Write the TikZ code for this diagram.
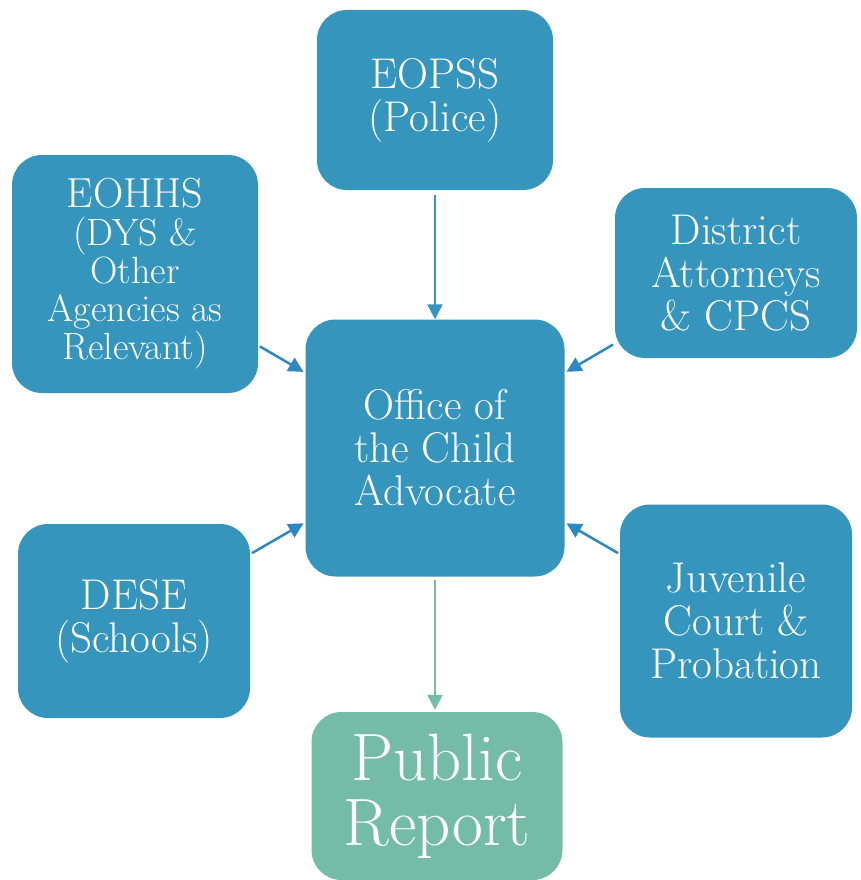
\documentclass[tikz,border=0pt]{standalone}
\usetikzlibrary{arrows.meta}
\definecolor{boxblue}{RGB}{53,149,188}
\definecolor{boxgreen}{RGB}{117,188,166}
\definecolor{arrowblue}{RGB}{44,135,195}

\begin{document}
\begin{tikzpicture}[x=1pt,y=-1pt,
    agency/.style={fill=boxblue, text=white, rounded corners=30pt, align=center, inner sep=0pt, font=\fontsize{43}{43}\selectfont},
    report/.style={agency, fill=boxgreen, font=\fontsize{67}{65}\selectfont},
    feed/.style={-{Triangle[length=15pt,width=15pt]}, line width=2.5pt, draw=arrowblue, shorten <=2pt, shorten >=2pt}]
    \useasboundingbox (0,0) rectangle (860,880);

    % Mitte
    \node[agency, minimum width=259pt, minimum height=257pt] (oca) at (435,448) {Office of\\the Child\\Advocate};

    % Behoerden ringsum
    \node[agency, minimum width=236pt, minimum height=180pt] (eopss) at (435,100) {EOPSS\\(Police)};
    \node[agency, minimum width=246pt, minimum height=238pt, font=\fontsize{38}{38}\selectfont] (eohhs) at (135,274) {{\fontsize{42}{40}\selectfont EOHHS}\\(DYS \&\\Other\\Agencies as\\Relevant)};
    \node[agency, minimum width=242pt, minimum height=170pt] (da) at (736,273) {District\\Attorneys\\\& CPCS};
    \node[agency, minimum width=232pt, minimum height=194pt] (dese) at (134,621) {DESE\\(Schools)};
    \node[agency, minimum width=232pt, minimum height=233pt] (court) at (736,621) {Juvenile\\Court \&\\Probation};

    % Ergebnis
    \node[report, minimum width=251pt, minimum height=168pt] (report) at (437,796) {Public\\Report};

    % Pfeile
    \draw[feed, draw=boxblue, shorten <=5pt, shorten >=0pt] (eopss) -- (oca);
    \draw[feed] (eohhs) -- (oca);
    \draw[feed] (da) -- (oca);
    \draw[feed] (dese) -- (oca);
    \draw[feed] (court) -- (oca);
    \draw[feed, draw=boxgreen, shorten <=3pt] (oca) -- (oca |- report.north);
\end{tikzpicture}
\end{document}
